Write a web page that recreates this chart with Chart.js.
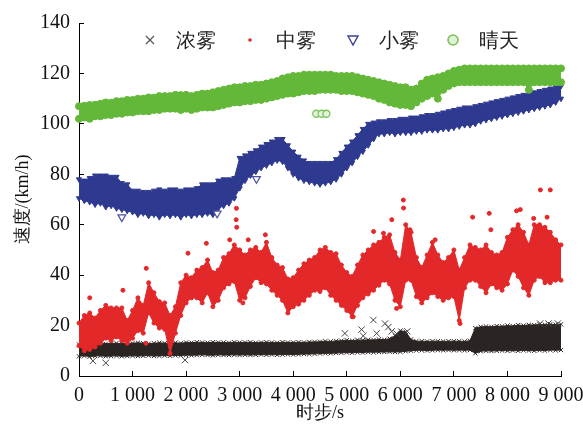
<!DOCTYPE html>
<html lang="zh">
<head>
<meta charset="utf-8">
<title>速度-时步</title>
<script src="https://cdn.jsdelivr.net/npm/chart.js@4.4.1/dist/chart.umd.min.js"></script>
<style>
  html, body { margin: 0; padding: 0; background: #fff; }
  #wrap { width: 583px; height: 429px; }
</style>
</head>
<body>
<div id="wrap"><canvas id="speed-chart" width="583" height="429"></canvas></div>
<script>
// 时步 (s), one sample every 100 s
const TIME = [0,100,200,300,400,500,600,700,800,900,
  1000,1100,1200,1300,1400,1500,1600,1700,1800,1900,
  2000,2100,2200,2300,2400,2500,2600,2700,2800,2900,
  3000,3100,3200,3300,3400,3500,3600,3700,3800,3900,
  4000,4100,4200,4300,4400,4500,4600,4700,4800,4900,
  5000,5100,5200,5300,5400,5500,5600,5700,5800,5900,
  6000,6100,6200,6300,6400,6500,6600,6700,6800,6900,
  7000,7100,7200,7300,7400,7500,7600,7700,7800,7900,
  8000,8100,8200,8300,8400,8500,8600,8700,8800,8900,9000];

const SERIES_NAMES = ['浓雾', '中雾', '小雾', '晴天'];

// 浓雾: upper / lower edge of the band (km/h)
const HEAVY_HI = [12.5,13,12.8,13,13.2,12.8,13,13,12.8,13,
  13,13.2,13,12.8,13,13.2,13,13,13.2,13,
  13.3,13.2,13.4,13.3,13.2,13.4,13.3,13.3,13.2,13.4,
  13.3,13.3,13.4,13.2,13.3,13.4,13.3,13.2,13.4,13.3,
  13.3,13.4,13.3,13.5,13.5,13.6,13.8,13.7,13.9,14,
  14.2,14,14.3,14.2,14.4,14.3,14.5,14.4,14.8,16,
  18,17.5,14.5,13.8,13.8,13.7,13.8,13.8,13.7,13.8,
  13.8,13.8,13.7,14,19,19.5,19.6,19.5,19.8,19.7,
  20,19.8,20.2,20,20.3,20.2,20.5,20.3,20.5,20.4,20.5];
const HEAVY_LO = [7.8,8,7.7,7.9,8,7.8,7.9,8,7.8,7.9,
  8,7.9,8,8.1,7.9,8,8.1,8,8.2,8.1,
  8.3,8.2,8.3,8.4,8.3,8.2,8.4,8.3,8.3,8.4,
  8.3,8.4,8.3,8.4,8.5,8.4,8.5,8.4,8.5,8.6,
  8.5,8.6,8.7,8.7,8.8,8.9,9,9,9.1,9.2,
  9.3,9.2,9.4,9.3,9.5,9.4,9.5,9.5,9.6,9.5,
  9.6,9.8,10,10.2,10.2,10.1,10.2,10.3,10.2,10.3,
  10.2,10.3,10.2,10.3,9,9.8,10,9.9,10,10.1,
  10,10.1,10,10.2,10.1,10,10.2,10.1,10.3,10.2,10.3];
const HEAVY_OUT_T = [260, 500, 1980, 4965, 5276, 5308, 5496, 5558, 5713, 5776, 5839, 5932, 6130, 8611, 8767, 8941];
const HEAVY_OUT_V = [6, 5.2, 6.3, 16.9, 18.4, 15.9, 22.2, 16.9, 20.8, 19.4, 17.7, 16.8, 17.7, 20.8, 20.8, 20.8];

// 中雾
const MID_HI = [21,24,25,23,26,28,27,27,27,22,
  26,31,28,37,33,29.5,29,24,27.5,37,
  40,39,42,43,46,41,42,47,48.5,52,
  50,48,50,51,49,53,47,44,43,38.5,
  39,42,44.5,46,47,50,51,49,48.5,44,
  41,39.5,44,48,50,52,53,55,56,49,
  46,60,57,47,43,48,53,48,45,47,
  50,42,47,52,51,50,52,49,48,49,
  55,58,60,57,52,60,60,59,57,54,52];
const MID_LO = [12,10,10.5,11.5,13,15,14,15.5,14,13,
  15,18,17,25,21,19,18.5,9,17,24,
  29,31,31,29,33,27.5,30,35,36.5,37.5,
  30,31,35.5,39,37,36.5,34,32,30,25,
  27.5,28.5,30,32,34,33.5,35,32,30,28,
  26,23.5,28,31,32.5,34,36,38,36.5,30,
  27.5,38,38,31.5,29,31,33,31.5,30,31,
  31.5,22,35,38,38,35.5,33,36.5,35,34,
  36.5,42,39.5,35,32,38,39.5,37,37,38,38];
const MID_OUT_T = [200, 820, 1256, 2035, 2378, 2814, 2940, 2935, 2945, 3160, 3480, 5500, 5685, 5840, 6056, 6060,
  6180, 6650, 7350, 7660, 7690, 8170, 8240, 8490, 8615, 8800, 8740, 7115, 5930, 5120, 1250, 3060];
const MID_OUT_V = [31, 34, 42.7, 48.7, 52.6, 54, 66.5, 62, 59, 54, 56, 57.3, 56.6, 62, 69.8, 66.6,
  58, 54, 63, 64.5, 58, 65.5, 66, 62.5, 73.8, 73.8, 63, 20.8, 26.8, 23.5, 13, 29];

// 小雾
const LIGHT_HI = [78,77.5,78.5,79.5,79.5,79.5,79,79,76.5,76,
  73.5,73.5,73,73,73.5,74,73.5,74,74,73.5,
  74,74,74.5,76,76,76,77.5,78,78,78.5,
  86.5,87.5,88.5,89.5,91,92,93,94,94,91.5,
  89,87,85.5,84.5,84.5,84.5,84.5,84.5,86,88.5,
  91,93,95.5,98,100,100.5,101,101,101.5,101.5,
  102,102,102.5,102.5,103,103.5,103.5,104,104.5,105,
  105.5,106,106.5,106.5,107,107.5,108,108.5,109,109.5,
  110,110.5,111,111.5,112,112.5,113,113.5,114,114.5,115];
const LIGHT_LO = [70.5,69.5,69,68,68.5,67,67.5,66.5,66,65.5,
  65,64,64.5,63.5,64,63,64,63.5,64,63,
  64,63.5,64,64,64.5,64,66.5,67.5,68.5,70.5,
  74.5,77.5,79.5,81,82.5,83.5,84.5,85.5,85,82.5,
  80,78.5,77.5,77,76.5,76,76.5,77,78,80,
  82.5,84.5,87,89,91.5,94,96,96,96.5,96,
  96.5,96.5,96.5,97,97,97.5,97.5,97.5,98,98,
  98.5,99,99.5,99.5,100,101,101.5,102,102.5,103,
  103.5,104,104.5,105,105.5,106,106.5,107,107.5,108.5,110];
const LIGHT_OUT_T = [800, 2580, 3313];
const LIGHT_OUT_V = [63, 64.5, 78.2];

// 晴天
const CLEAR_HI = [107,107.2,107.5,107.6,108,108.5,108.4,109,109,109.5,
  109.5,110,110,110.5,110.4,111,111,111,111.5,111.4,
  111.5,111,111.5,112,112,112.5,113,113.5,114,114.5,
  114.5,115,115,115.5,115.5,116,116.5,117,118,118.5,
  119,119,119.5,119.5,119.5,119.5,119.5,119.5,119,119,
  119,119,118.5,118,117.5,117,116.5,116,115.5,115,
  114.5,114.5,113.5,114,116,117.5,118,118.5,119,120,
  121,121.5,122,122,122,122,122,122,122,122,
  122,122,122,122,122,122,122,122,122,122,122];
const CLEAR_LO = [102,102.5,102,103,103,103.5,103.5,104,104,104.5,
  104.5,105,105,105,105.5,105.5,106,106,106,105.5,
  106,105.5,106,106.5,106.5,106.5,107,107.5,108,108.5,
  108.5,109,109,109.5,109.5,110,110.5,111,111.5,112,
  112,112.5,113,113,113,113.5,113.5,113.5,113.5,113,
  113,113,112.5,112,111.5,111,110,109.5,108.5,108,
  107.5,107.5,107,108.5,110,111,112,110,113.5,115,
  116,116.5,116.5,116.5,116.5,116.5,116.5,116.5,116.5,116.5,
  116.5,116.5,116.5,116.5,113.5,116.5,116.5,116.5,116.5,116.5,116.5];
const CLEAR_OUT_T = [4430, 4530, 4620];
const CLEAR_OUT_V = [104, 104, 104];

const SERIF = '"Liberation Serif", serif';

function pts(ts, vs) {
  return ts.map((t, i) => ({ x: t, y: vs[i] }));
}

// 一个系列 = 外点 + 边缘标记 + 上下包络之间的填充带
function series(name, hi, lo, outT, outV, look) {
  const edge = {
    type: 'scatter', label: name + '-edge',
    data: pts(TIME, hi).concat(pts(TIME, lo)),
    pointStyle: look.style, rotation: look.rotation || 0,
    pointRadius: look.radius, borderWidth: look.edgeWidth || 1,
    borderColor: look.color, backgroundColor: look.color, clip: false,
  };
  const out = {
    type: 'scatter', label: name,
    data: pts(outT, outV),
    pointStyle: look.style, rotation: look.rotation || 0,
    pointRadius: look.outRadius || look.radius, borderWidth: look.outWidth || 1,
    borderColor: look.outColor || look.color, backgroundColor: look.outFill || look.color, clip: false,
  };
  const top = {
    type: 'line', label: name + '-hi', data: pts(TIME, hi),
    borderColor: look.color, borderWidth: 1, pointRadius: 0, fill: false, tension: 0, clip: false,
  };
  const bottom = {
    type: 'line', label: name + '-lo', data: pts(TIME, lo),
    borderColor: look.color, borderWidth: 1, pointRadius: 0, fill: '-1',
    backgroundColor: look.color, tension: 0, clip: false,
  };
  return [out, edge, top, bottom];
}

const BLACK = '#2a2422';
const RED = '#e3282a';
const BLUE = '#2e3990';
const GREEN = '#63b839';

// 数组中靠前的数据集画在上层
const datasets = [].concat(
  series(SERIES_NAMES[3], CLEAR_HI, CLEAR_LO, CLEAR_OUT_T, CLEAR_OUT_V,
    { style: 'circle', radius: 3.5, color: GREEN, outRadius: 3.5, outColor: '#7cc25c', outFill: '#e4f3da', outWidth: 1.3 }),
  series(SERIES_NAMES[2], LIGHT_HI, LIGHT_LO, LIGHT_OUT_T, LIGHT_OUT_V,
    { style: 'triangle', rotation: 180, radius: 3, color: BLUE, outRadius: 4.5, outColor: '#4b52a6', outFill: '#ffffff', outWidth: 1.2 }),
  series(SERIES_NAMES[1], MID_HI, MID_LO, MID_OUT_T, MID_OUT_V,
    { style: 'circle', radius: 2, color: RED }),
  series(SERIES_NAMES[0], HEAVY_HI, HEAVY_LO, HEAVY_OUT_T, HEAVY_OUT_V,
    { style: 'crossRot', radius: 3, color: BLACK, outRadius: 4.5, outColor: '#444', outWidth: 1 })
);

// 图例画在绘图区内部上方
function drawMarker(ctx, i, x, y) {
  ctx.save();
  if (i === 0) {
    ctx.strokeStyle = '#555';
    ctx.lineWidth = 1.2;
    ctx.beginPath();
    ctx.moveTo(x - 4, y - 4); ctx.lineTo(x + 4, y + 4);
    ctx.moveTo(x + 4, y - 4); ctx.lineTo(x - 4, y + 4);
    ctx.stroke();
  } else if (i === 1) {
    ctx.fillStyle = RED;
    ctx.beginPath();
    ctx.arc(x, y, 1.8, 0, Math.PI * 2);
    ctx.fill();
  } else if (i === 2) {
    ctx.fillStyle = '#fff';
    ctx.strokeStyle = '#3d4294';
    ctx.lineWidth = 1.4;
    ctx.beginPath();
    ctx.moveTo(x - 5, y - 4); ctx.lineTo(x + 5, y - 4); ctx.lineTo(x, y + 5);
    ctx.closePath();
    ctx.fill(); ctx.stroke();
  } else {
    ctx.fillStyle = '#e0f1d4';
    ctx.strokeStyle = '#7cc25c';
    ctx.lineWidth = 1.6;
    ctx.beginPath();
    ctx.arc(x, y, 5, 0, Math.PI * 2);
    ctx.fill(); ctx.stroke();
  }
  ctx.restore();
}

const insideLegend = {
  id: 'insideLegend',
  afterDraw(chart) {
    const ctx = chart.ctx;
    const xs = [150, 250, 353, 453];
    const y = 40;
    ctx.save();
    ctx.font = '20px ' + SERIF;
    ctx.textBaseline = 'middle';
    ctx.textAlign = 'left';
    SERIES_NAMES.forEach((name, i) => {
      drawMarker(ctx, i, xs[i], y);
      ctx.fillStyle = '#222';
      ctx.fillText(name, xs[i] + 26, y + 2);
    });
    ctx.restore();
  },
};

new Chart(document.getElementById('speed-chart'), {
  type: 'scatter',
  data: { datasets },
  plugins: [insideLegend],
  options: {
    responsive: false,
    animation: false,
    events: [],
    layout: { padding: { left: 0, right: 22, top: 23, bottom: 0 } },
    plugins: { legend: { display: false }, tooltip: { enabled: false } },
    scales: {
      x: {
        type: 'linear', min: 0, max: 9000,
        // 固定轴高，并去掉标签溢出带来的左右留白
        afterFit: (s) => { s.height = 53; s.paddingLeft = 0; s.paddingRight = 0; },
        border: { display: true, color: '#000', width: 1 },
        grid: { drawOnChartArea: false, drawTicks: true, tickLength: -5, color: '#000' },
        ticks: {
          stepSize: 1000, padding: 13, color: '#111', maxRotation: 0,
          font: { family: SERIF, size: 20 },
          callback: (v) => (v === 0 ? '0' : (v / 1000) + ' 000'),
        },
        title: { display: true, text: '时步/s', color: '#111', font: { family: SERIF, size: 18 }, padding: { bottom: 5 } },
      },
      y: {
        type: 'linear', min: 0, max: 140,
        afterFit: (s) => { s.width = 79; s.paddingTop = 0; s.paddingBottom = 0; },
        border: { display: true, color: '#000', width: 1 },
        grid: { drawOnChartArea: false, drawTicks: true, tickLength: -5, color: '#000' },
        ticks: { stepSize: 20, padding: 14, color: '#111', font: { family: SERIF, size: 20 } },
        title: { display: true, text: '速度/(km/h)', color: '#111', font: { family: SERIF, size: 18 }, padding: { top: 12 } },
      },
    },
  },
});
</script>
</body>
</html>
